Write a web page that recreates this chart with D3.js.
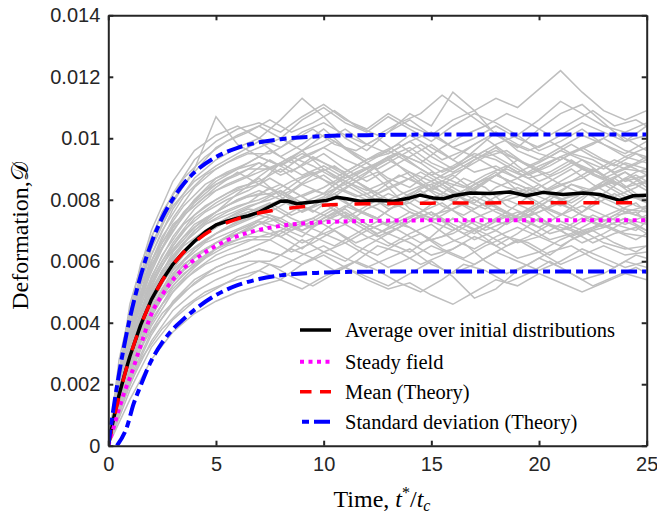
<html>
<head>
<meta charset="utf8">
<style>
body { margin: 0; background: #fff; }
</style>
</head>
<body>
<div id="canvas"></div>
<script src="https://cdn.jsdelivr.net/npm/d3@7/dist/d3.min.js"></script>
<script>

// values are in units of 1e-3 (deformation)
const UNIT = 1e-3;

const xTicks = [0, 5, 10, 15, 20, 25];
const yTicks = [0, 2, 4, 6, 8, 10, 12, 14];
const yTickLabels = ["0", "0.002", "0.004", "0.006", "0.008", "0.01", "0.012", "0.014"];

const legendLabels = [
    "Average over initial distributions",
    "Steady field",
    "Mean (Theory)",
    "Standard deviation (Theory)"
];

// theory curves
const tTheory   = [0, 0.25, 0.5, 0.75, 1, 1.5, 2, 2.5, 3, 3.5, 4, 5, 6, 7, 8, 10, 12, 15, 20, 25];
const meanTheory= [0, 0.85, 1.60, 2.28, 2.88, 3.90, 4.72, 5.36, 5.88, 6.29, 6.62, 7.09, 7.38, 7.57, 7.69, 7.82, 7.87, 7.89, 7.90, 7.90];
const stdUpper  = [0, 1.25, 2.34, 3.30, 4.14, 5.52, 6.59, 7.41, 8.03, 8.52, 8.89, 9.39, 9.69, 9.87, 9.97, 10.07, 10.10, 10.12, 10.12, 10.12];
const steadyField=[0, 0.60, 1.20, 1.75, 2.20, 3.25, 4.28, 4.90, 5.40, 5.77, 6.05, 6.50, 6.82, 7.02, 7.15, 7.27, 7.31, 7.33, 7.33, 7.33];

const tLower    = [0.4, 0.87, 1.17, 1.5, 1.95, 2.5, 2.88, 3.5, 4, 5, 6, 7, 8, 10, 12, 15, 20, 25];
const stdLower  = [0, 0.62, 1.35, 1.95, 2.70, 3.35, 3.70, 4.12, 4.42, 4.90, 5.22, 5.42, 5.54, 5.63, 5.66, 5.67, 5.67, 5.67];

// average over initial distributions
const tAvg = [0, 0.25, 0.5, 0.75, 1, 1.5, 2, 2.5, 3, 3.5, 4, 4.5, 5, 5.5, 6, 6.5, 7, 7.5, 8, 8.3, 8.75, 9.37, 10.14, 10.6, 11.07, 11.69, 12.46, 13.23, 14, 14.47, 15.09, 15.55, 16.02, 16.79, 17.72, 18.65, 19.42, 20.19, 21.12, 22.05, 22.82, 23.75, 24.37, 25];
const avgValues = [0, 0.9, 1.65, 2.3, 2.9, 3.92, 4.75, 5.38, 5.9, 6.3, 6.65, 6.95, 7.18, 7.3, 7.4, 7.48, 7.6, 7.78, 7.95, 7.96, 7.87, 7.92, 7.98, 8.08, 8.03, 7.95, 7.98, 7.95, 8.06, 8.15, 8.06, 8.03, 8.13, 8.22, 8.2, 8.25, 8.13, 8.24, 8.17, 8.22, 8.17, 7.98, 8.13, 8.15];

// individual realizations (grey), sampled on two time grids
const tGrid = [0, 1, 2, 3, 4, 5, 6, 7, 8, 9, 10, 11, 12, 13, 14, 15, 16, 17, 18, 19, 20, 21, 22, 23, 24, 25];
const realizations = [
    [0, 3.0, 4.8, 6.0, 6.7, 7.2, 7.6, 7.9, 8.3, 7.8, 8.1, 8.6, 8.2, 7.7, 7.9, 8.4, 8.8, 8.3, 7.9, 8.1, 8.5, 8.0, 7.6, 8.2, 8.7, 8.3],
    [0, 3.6, 5.8, 7.1, 8.0, 8.7, 9.0, 9.4, 9.1, 9.6, 10.1, 9.7, 9.3, 9.5, 9.9, 9.4, 9.0, 9.6, 10.2, 9.8, 9.5, 9.3, 9.7, 10.0, 9.6, 9.4],
    [0, 2.2, 3.7, 4.6, 5.3, 5.8, 6.1, 6.4, 6.2, 6.7, 6.3, 6.0, 6.5, 6.9, 6.6, 6.2, 6.4, 6.8, 6.5, 6.1, 6.3, 6.7, 7.0, 6.6, 6.4, 6.5],
    [0, 4.0, 6.5, 8.0, 8.9, 9.7, 10.1, 10.4, 10.0, 10.6, 11.0, 10.5, 10.2, 10.7, 10.3, 9.9, 10.4, 10.8, 10.5, 10.1, 10.6, 11.2, 10.8, 10.4, 10.2, 10.5],
    [0, 2.6, 4.3, 5.5, 6.2, 6.6, 7.0, 7.3, 7.1, 6.8, 7.4, 7.7, 7.2, 6.9, 7.3, 7.6, 7.1, 6.7, 7.0, 7.5, 7.8, 7.3, 7.0, 7.2, 7.6, 7.4],
    [0, 3.3, 5.4, 6.6, 7.5, 8.0, 8.4, 8.6, 9.0, 8.5, 8.2, 8.8, 9.2, 8.7, 8.4, 8.9, 8.6, 8.3, 8.8, 9.3, 8.9, 8.5, 8.7, 9.1, 8.6, 8.8],
    [0, 1.8, 3.2, 4.1, 4.7, 5.1, 5.5, 5.7, 5.4, 5.9, 6.2, 5.8, 5.5, 5.2, 5.6, 6.0, 5.5, 4.8, 5.1, 5.7, 6.1, 5.8, 5.4, 5.6, 6.0, 5.8],
    [0, 3.8, 5.9, 7.0, 7.9, 8.5, 8.8, 9.2, 8.8, 9.1, 9.5, 9.0, 8.6, 9.0, 9.4, 9.8, 9.3, 8.9, 9.1, 8.7, 9.0, 9.4, 9.1, 8.8, 9.2, 9.0],
    [0, 2.9, 4.6, 5.9, 6.6, 7.1, 7.5, 7.7, 8.0, 7.6, 7.9, 7.4, 7.8, 8.2, 7.9, 7.5, 7.7, 8.1, 7.8, 7.4, 7.6, 8.0, 8.3, 7.9, 7.6, 7.8],
    [0, 4.3, 6.8, 8.2, 9.3, 9.9, 10.3, 10.5, 10.2, 10.7, 11.1, 10.6, 10.3, 10.8, 10.4, 10.1, 10.6, 10.9, 11.3, 11.0, 11.6, 12.2, 11.5, 10.9, 10.6, 10.9],
    [0, 3.1, 5.0, 6.3, 7.1, 7.6, 8.0, 8.2, 8.5, 8.1, 8.4, 8.8, 8.4, 8.0, 8.3, 8.6, 8.2, 7.9, 8.4, 8.7, 8.3, 8.0, 8.2, 8.5, 8.9, 8.4],
    [0, 2.4, 4.0, 5.2, 5.9, 6.4, 6.7, 7.0, 6.8, 7.2, 6.9, 6.6, 7.0, 7.3, 7.1, 6.7, 6.9, 7.3, 7.0, 6.6, 6.8, 7.2, 6.9, 7.1, 7.4, 7.0],
    [0, 3.5, 6.0, 7.4, 8.4, 9.0, 9.4, 9.7, 10.0, 9.6, 9.9, 10.3, 9.8, 9.5, 9.9, 10.2, 9.7, 9.4, 9.8, 10.1, 9.6, 9.9, 10.3, 9.8, 9.5, 9.9],
    [0, 2.0, 3.4, 4.4, 5.0, 5.4, 5.7, 6.0, 5.8, 6.2, 6.5, 6.1, 5.8, 6.1, 6.4, 5.9, 5.6, 5.9, 6.3, 6.0, 5.7, 6.0, 6.4, 6.1, 5.8, 6.0],
    [0, 3.4, 5.2, 6.5, 7.4, 7.9, 8.3, 8.5, 8.2, 8.7, 9.0, 8.6, 8.3, 8.6, 8.9, 8.4, 8.1, 8.5, 8.8, 8.5, 8.2, 8.6, 9.0, 8.7, 8.4, 8.6],
    [0, 2.7, 4.5, 5.7, 6.4, 6.9, 7.2, 7.5, 7.3, 7.0, 7.4, 7.8, 7.5, 7.2, 7.6, 7.3, 7.0, 7.4, 7.7, 7.4, 7.1, 7.5, 7.8, 7.5, 7.2, 7.5],
    [0, 3.9, 6.4, 7.9, 9.0, 10.7, 9.8, 9.4, 9.1, 9.5, 9.2, 8.9, 9.3, 9.6, 9.2, 8.8, 9.1, 9.5, 9.3, 8.9, 9.2, 9.6, 9.3, 9.0, 9.4, 9.2],
    [0, 1.5, 2.8, 3.7, 4.3, 4.7, 5.0, 5.2, 5.4, 5.1, 5.5, 5.8, 5.4, 5.1, 5.3, 4.9, 4.6, 5.0, 5.4, 5.2, 5.6, 5.3, 5.0, 5.3, 5.6, 5.4],
    [0, 3.2, 5.1, 6.2, 7.0, 7.5, 7.8, 8.0, 8.3, 7.9, 8.2, 8.5, 8.1, 7.8, 8.2, 8.5, 8.0, 7.7, 8.1, 8.4, 8.1, 7.8, 8.2, 8.5, 8.1, 8.0],
    [0, 3.7, 6.2, 7.7, 8.7, 9.3, 9.7, 10.0, 9.7, 10.2, 10.5, 10.1, 9.8, 10.2, 10.6, 10.1, 9.7, 10.0, 10.4, 10.0, 9.7, 10.1, 10.5, 10.2, 9.9, 10.1],
    [0, 2.3, 3.9, 5.0, 5.7, 6.2, 6.5, 6.8, 7.0, 6.6, 6.9, 7.2, 6.8, 6.5, 6.9, 7.2, 6.7, 6.4, 6.8, 7.1, 6.8, 6.5, 6.9, 7.2, 6.9, 6.8],
    [0, 3.5, 5.5, 6.8, 7.7, 8.3, 8.6, 8.9, 9.2, 8.8, 9.1, 8.7, 9.0, 9.3, 8.9, 8.6, 9.0, 9.4, 9.0, 8.7, 9.1, 9.4, 9.0, 8.7, 9.0, 8.9],
    [0, 2.8, 4.4, 5.6, 6.4, 6.9, 7.3, 7.6, 7.4, 7.8, 7.5, 7.2, 7.7, 8.0, 7.6, 7.3, 7.7, 8.0, 7.6, 7.3, 7.6, 7.9, 7.5, 7.3, 7.7, 7.6],
    [0, 4.6, 7.0, 8.6, 9.6, 10.1, 10.4, 10.0, 10.6, 11.3, 10.7, 10.0, 9.6, 10.2, 10.8, 10.4, 11.5, 10.9, 10.1, 9.7, 10.3, 10.8, 11.1, 10.5, 9.9, 10.4],
    [0, 3.0, 4.9, 6.1, 7.0, 7.6, 8.0, 8.3, 8.0, 8.5, 8.8, 8.3, 8.0, 8.4, 8.7, 8.3, 8.0, 8.4, 8.8, 8.5, 8.2, 8.5, 8.2, 8.6, 8.9, 8.5],
    [0, 2.5, 4.2, 5.4, 6.1, 6.6, 6.9, 7.2, 7.4, 7.0, 7.3, 7.6, 7.2, 6.9, 7.3, 7.6, 7.2, 6.9, 7.3, 7.6, 7.3, 7.0, 7.4, 7.1, 7.4, 7.2],
    [0, 3.6, 5.7, 7.1, 8.0, 8.6, 9.0, 9.2, 8.9, 9.4, 9.7, 9.3, 9.0, 9.4, 9.7, 9.2, 8.9, 9.3, 9.6, 9.3, 9.0, 9.4, 9.7, 9.3, 9.0, 9.3],
    [0, 2.1, 3.6, 4.7, 5.4, 5.8, 6.1, 6.4, 6.2, 5.9, 6.3, 6.6, 6.2, 5.8, 6.1, 6.5, 6.2, 5.9, 6.3, 6.7, 6.3, 5.9, 6.2, 6.5, 6.2, 6.3],
    [0, 3.3, 5.3, 6.4, 7.2, 7.6, 8.2, 8.7, 8.1, 7.6, 8.0, 8.6, 9.0, 8.4, 7.7, 7.4, 7.9, 8.5, 8.9, 8.3, 7.8, 7.5, 8.0, 8.6, 8.2, 7.9],
    [0, 3.9, 6.0, 7.2, 7.8, 8.4, 8.9, 8.5, 9.2, 9.6, 9.0, 8.5, 8.9, 9.4, 8.8, 8.3, 8.7, 9.3, 9.7, 9.1, 8.6, 8.9, 9.3, 8.8, 8.4, 8.8],
    [0, 2.6, 4.1, 5.1, 5.8, 6.4, 6.9, 7.3, 6.8, 6.4, 7.0, 7.5, 7.1, 6.6, 6.3, 6.8, 7.4, 7.0, 6.5, 6.9, 7.4, 7.0, 6.6, 6.9, 7.3, 7.0],
    [0, 4.2, 6.6, 7.8, 8.6, 9.1, 9.5, 9.9, 9.4, 9.8, 10.3, 9.7, 9.2, 9.6, 10.1, 9.7, 9.3, 9.8, 10.2, 9.6, 9.3, 9.7, 10.1, 9.8, 9.4, 9.7]
];

const tGridB = [0, 0.5, 1.5, 2.5, 3.5, 4.5, 5.5, 6.5, 7.5, 8.5, 9.5, 10.5, 11.5, 12.5, 13.5, 14.5, 15.5, 16.5, 17.5, 18.5, 19.5, 20.5, 21.5, 22.5, 23.5, 24.5, 25];
const realizationsB = [
    [0, 1.9, 4.3, 5.7, 6.6, 7.2, 7.6, 7.9, 8.4, 8.0, 7.6, 8.1, 8.6, 8.9, 8.3, 7.9, 8.2, 8.7, 8.4, 7.8, 7.5, 8.0, 8.5, 8.3, 8.7, 8.2, 8.0],
    [0, 1.6, 3.8, 5.1, 6.0, 6.6, 6.9, 7.2, 7.5, 7.1, 7.4, 7.8, 7.3, 6.9, 7.2, 7.6, 7.9, 7.4, 7.0, 7.3, 7.7, 7.2, 6.8, 7.1, 7.5, 7.6, 7.3],
    [0, 2.2, 4.9, 6.4, 7.5, 8.1, 8.5, 8.8, 9.3, 8.9, 9.4, 9.0, 8.6, 9.1, 9.5, 9.2, 8.7, 9.0, 9.4, 9.6, 9.1, 8.8, 9.2, 8.9, 9.3, 9.0, 8.8],
    [0, 1.4, 3.4, 4.6, 5.4, 5.9, 6.2, 6.4, 6.7, 6.3, 6.6, 7.0, 6.5, 6.2, 6.6, 6.9, 6.4, 6.1, 6.5, 6.8, 6.6, 6.2, 6.7, 7.0, 6.6, 6.3, 6.5],
    [0, 2.1, 4.6, 6.0, 7.0, 7.6, 8.0, 8.3, 8.7, 8.3, 8.8, 9.1, 8.6, 8.2, 8.5, 8.9, 8.5, 8.1, 8.6, 9.0, 8.7, 8.3, 8.6, 9.0, 8.5, 8.8, 8.6],
    [0, 1.8, 4.1, 5.5, 6.3, 6.9, 7.3, 7.6, 7.9, 7.5, 7.8, 8.2, 7.7, 7.4, 7.9, 8.3, 7.8, 7.5, 7.9, 7.6, 8.1, 7.7, 7.4, 7.8, 8.2, 7.8, 7.7],
    [0, 2.4, 5.2, 6.8, 7.8, 8.5, 8.9, 9.2, 9.6, 9.2, 9.5, 9.9, 9.4, 9.0, 9.4, 9.8, 9.3, 9.6, 10.0, 9.5, 9.1, 9.4, 9.8, 9.4, 9.1, 9.5, 9.3],
    [0, 1.5, 3.6, 4.9, 5.7, 6.2, 6.6, 6.8, 6.8, 7.2, 7.4, 7.0, 6.6, 6.9, 7.3, 6.9, 6.5, 6.8, 7.2, 7.5, 7.1, 6.7, 6.9, 7.3, 7.0, 6.7, 6.9],
    [0, 1.8, 4.2, 5.6, 6.5, 7.0, 7.4, 7.7, 7.6, 8.0, 8.3, 8.1, 7.7, 7.4, 7.9, 8.4, 8.6, 8.2, 7.8, 8.0, 7.7, 8.1, 8.5, 8.2, 7.9, 7.5, 7.8],
    [0, 2.0, 4.7, 6.2, 7.2, 7.8, 8.2, 8.5, 9.0, 9.3, 8.8, 8.5, 8.9, 9.2, 9.5, 9.0, 8.6, 8.4, 8.8, 9.1, 8.7, 8.9, 9.3, 8.8, 8.5, 8.9, 9.0],
    [0, 1.3, 3.2, 4.3, 5.0, 5.5, 5.8, 6.0, 6.0, 6.4, 6.1, 5.7, 6.0, 6.5, 6.3, 5.9, 6.2, 6.6, 6.0, 5.6, 5.9, 6.3, 6.5, 6.1, 5.8, 6.2, 6.1],
    [0, 2.5, 5.4, 7.0, 8.1, 8.8, 9.2, 9.5, 9.5, 9.9, 10.3, 9.8, 9.6, 10.0, 9.5, 9.2, 9.7, 10.1, 10.4, 9.9, 9.6, 9.9, 9.5, 9.8, 10.2, 9.8, 9.6],
    [0, 1.7, 3.9, 5.3, 6.2, 6.7, 7.1, 7.4, 7.8, 7.4, 7.1, 7.5, 8.0, 7.7, 7.3, 7.6, 8.1, 7.8, 7.4, 7.2, 7.6, 8.0, 7.7, 7.3, 7.6, 7.9, 7.6],
    [0, 2.0, 4.4, 5.9, 6.8, 7.4, 7.8, 8.1, 8.2, 8.6, 8.9, 8.4, 8.1, 8.3, 8.8, 8.5, 8.0, 8.3, 8.7, 8.4, 8.2, 8.6, 9.0, 8.5, 8.1, 8.4, 8.6],
    [0, 1.1, 2.8, 3.8, 4.5, 5.0, 5.3, 5.5, 5.9, 5.5, 5.2, 5.6, 6.0, 5.7, 5.3, 5.0, 5.4, 5.9, 5.7, 5.3, 5.6, 6.0, 5.6, 5.2, 5.5, 5.8, 5.6],
    [0, 2.3, 5.0, 6.6, 7.6, 8.3, 8.7, 9.0, 9.0, 9.4, 9.1, 8.7, 9.1, 9.5, 9.8, 9.3, 8.9, 9.2, 9.6, 9.2, 8.8, 9.1, 9.5, 9.3, 8.9, 9.2, 9.4],
    [0, 1.6, 3.7, 5.0, 5.9, 6.4, 6.8, 7.0, 7.4, 7.0, 7.3, 7.7, 7.2, 6.8, 7.1, 7.5, 7.3, 6.9, 7.2, 7.6, 7.3, 6.9, 7.1, 7.5, 7.2, 7.0, 7.3],
    [0, 1.9, 4.3, 5.7, 6.6, 7.2, 7.5, 7.8, 8.0, 8.3, 7.9, 8.2, 8.6, 8.1, 7.8, 8.2, 8.5, 8.0, 7.7, 8.1, 8.4, 8.2, 7.9, 8.3, 8.6, 8.1, 8.0],
    [0, 2.8, 5.9, 7.6, 8.7, 9.4, 9.9, 10.2, 10.6, 10.2, 10.5, 10.9, 10.4, 10.1, 10.5, 10.8, 11.4, 10.9, 10.4, 10.8, 10.5, 10.1, 10.5, 10.9, 10.4, 10.6, 10.4],
    [0, 1.5, 3.6, 4.8, 5.6, 6.1, 6.5, 6.7, 6.7, 7.1, 6.8, 6.5, 6.9, 7.3, 7.0, 6.6, 6.8, 7.2, 6.9, 6.5, 6.8, 7.2, 7.0, 6.6, 6.9, 7.1, 6.9]
];

const W = 657, H = 514;
const margin = {left: 108.3, right: 10.3, top: 15.3, bottom: 68.3};
const axisColor = "#262626";

const svg = d3.select("#canvas").append("svg")
    .attr("width", W)
    .attr("height", H)
    .attr("viewBox", `0 0 ${W} ${H}`);

const xScale = d3.scaleLinear()
    .domain([0, 25])
    .range([margin.left, W - margin.right]);

const yScale = d3.scaleLinear()
    .domain([0, 14 * UNIT])
    .range([H - margin.bottom, margin.top]);

svg.append("clipPath").attr("id", "plotclip")
    .append("rect")
    .attr("x", margin.left).attr("y", margin.top)
    .attr("width", W - margin.left - margin.right)
    .attr("height", H - margin.top - margin.bottom);

const plot = svg.append("g").attr("clip-path", "url(#plotclip)");

const line = d3.line()
    .x(d => xScale(d[0]))
    .y(d => yScale(d[1] * UNIT));

const pairs = (ts, vs) => ts.map((t, i) => [t, vs[i]]);

// grey realizations
const greyData = realizations.map(r => pairs(tGrid, r))
    .concat(realizationsB.map(r => pairs(tGridB, r)));
plot.append("g")
    .selectAll("path")
    .data(greyData)
    .join("path")
    .attr("fill", "none")
    .attr("stroke", "#bfbfbf")
    .attr("stroke-width", 1.5)
    .attr("d", line);

const smooth = d3.line()
    .curve(d3.curveMonotoneX)
    .x(d => xScale(d[0]))
    .y(d => yScale(d[1] * UNIT));

const styles = {
    avg:    {stroke: "#000000", width: 3.5, dash: null},
    steady: {stroke: "#ff00ff", width: 4, dash: "4,4.5"},
    mean:   {stroke: "#ff0000", width: 3.5, dash: "16,16.7"},
    std:    {stroke: "#0000ff", width: 4, dash: "16,5,7,5"}
};

// average over initial distributions
plot.append("path")
    .datum(pairs(tAvg, avgValues))
    .attr("fill", "none")
    .attr("stroke", styles.avg.stroke)
    .attr("stroke-width", styles.avg.width)
    .attr("stroke-linejoin", "round")
    .attr("d", line);

// steady field
plot.append("path")
    .datum(pairs(tTheory, steadyField))
    .attr("fill", "none")
    .attr("stroke", styles.steady.stroke)
    .attr("stroke-width", styles.steady.width)
    .attr("stroke-dasharray", styles.steady.dash)
    .attr("d", smooth);

// mean theory
plot.append("path")
    .datum(pairs(tTheory, meanTheory))
    .attr("fill", "none")
    .attr("stroke", styles.mean.stroke)
    .attr("stroke-width", styles.mean.width)
    .attr("stroke-dasharray", styles.mean.dash)
    .attr("d", smooth);

// standard deviation bounds
[pairs(tTheory, stdUpper), pairs(tLower, stdLower)].forEach(d => {
    plot.append("path")
        .datum(d)
        .attr("fill", "none")
        .attr("stroke", styles.std.stroke)
        .attr("stroke-width", styles.std.width)
        .attr("stroke-dasharray", styles.std.dash)
        .attr("d", smooth);
});

// axes (ticks inside, mirrored on top/right)
const xAxis = d3.axisBottom(xScale).tickValues(xTicks).tickSize(-5).tickSizeOuter(0).tickPadding(11);
const yAxis = d3.axisLeft(yScale).tickValues(yTicks.map(v => v * UNIT))
    .tickFormat((d, i) => yTickLabels[i]).tickSize(-5).tickSizeOuter(0).tickPadding(8);

const gx = svg.append("g").attr("transform", `translate(0,${H - margin.bottom})`).call(xAxis);
const gy = svg.append("g").attr("transform", `translate(${margin.left},0)`).call(yAxis);
const gxTop = svg.append("g").attr("transform", `translate(0,${margin.top})`)
    .call(d3.axisTop(xScale).tickValues(xTicks).tickSize(-5).tickSizeOuter(0).tickFormat(""));
const gyRight = svg.append("g").attr("transform", `translate(${W - margin.right},0)`)
    .call(d3.axisRight(yScale).tickValues(yTicks.map(v => v * UNIT)).tickSize(-5).tickSizeOuter(0).tickFormat(""));

[gx, gy, gxTop, gyRight].forEach(g => {
    g.select(".domain").attr("stroke", axisColor).attr("stroke-width", 2);
    g.selectAll(".tick line").attr("stroke", axisColor).attr("stroke-width", 2);
    g.selectAll(".tick text")
        .attr("fill", axisColor)
        .attr("font-family", "'Liberation Sans', Arial, sans-serif")
        .attr("font-size", "20px");
});

// axis labels
const serif = "'Liberation Serif', 'Times New Roman', serif";
const xl = svg.append("text")
    .attr("x", 382)
    .attr("y", 507)
    .attr("text-anchor", "middle")
    .attr("font-family", serif)
    .attr("font-size", "24px")
    .attr("fill", "#000");
xl.append("tspan").text("Time, ");
xl.append("tspan").attr("font-style", "italic").text("t");
xl.append("tspan").attr("font-size", "16px").attr("dy", -9).text("*");
xl.append("tspan").attr("dy", 9).text("/");
xl.append("tspan").attr("font-style", "italic").text("t");
xl.append("tspan").attr("font-style", "italic").attr("font-size", "16px").attr("dy", 4).text("c");

const yl = svg.append("text")
    .attr("transform", "translate(28,236) rotate(-90)")
    .attr("text-anchor", "middle")
    .attr("font-family", serif)
    .attr("font-size", "24px")
    .attr("fill", "#000");
yl.append("tspan").text("Deformation,");
yl.append("tspan").attr("font-family", "'DejaVu Serif', 'DejaVu Sans', serif").text("\u{1D49F}");

// legend (no box)
const legendRows = [330, 361.7, 391.7, 421.7];
const legendStyles = [
    {s: styles.avg, dash: null, offset: 0},
    {s: styles.steady, dash: "4,4.5", offset: 0},
    {s: styles.mean, dash: "11.5,8.5", offset: 0},
    {s: styles.std, dash: "16,5,7,5", offset: 19}
];
const legend = svg.append("g");
legendLabels.forEach((label, i) => {
    const st = legendStyles[i];
    legend.append("line")
        .attr("x1", 300).attr("x2", 331)
        .attr("y1", legendRows[i]).attr("y2", legendRows[i])
        .attr("stroke", st.s.stroke)
        .attr("stroke-width", st.s.width)
        .attr("stroke-dasharray", st.dash)
        .attr("stroke-dashoffset", st.offset);
    legend.append("text")
        .attr("x", 345)
        .attr("y", legendRows[i])
        .attr("dominant-baseline", "central")
        .attr("font-family", serif)
        .attr("font-size", "20.5px")
        .attr("fill", "#000")
        .text(label);
});
</script>
</body>
</html>
